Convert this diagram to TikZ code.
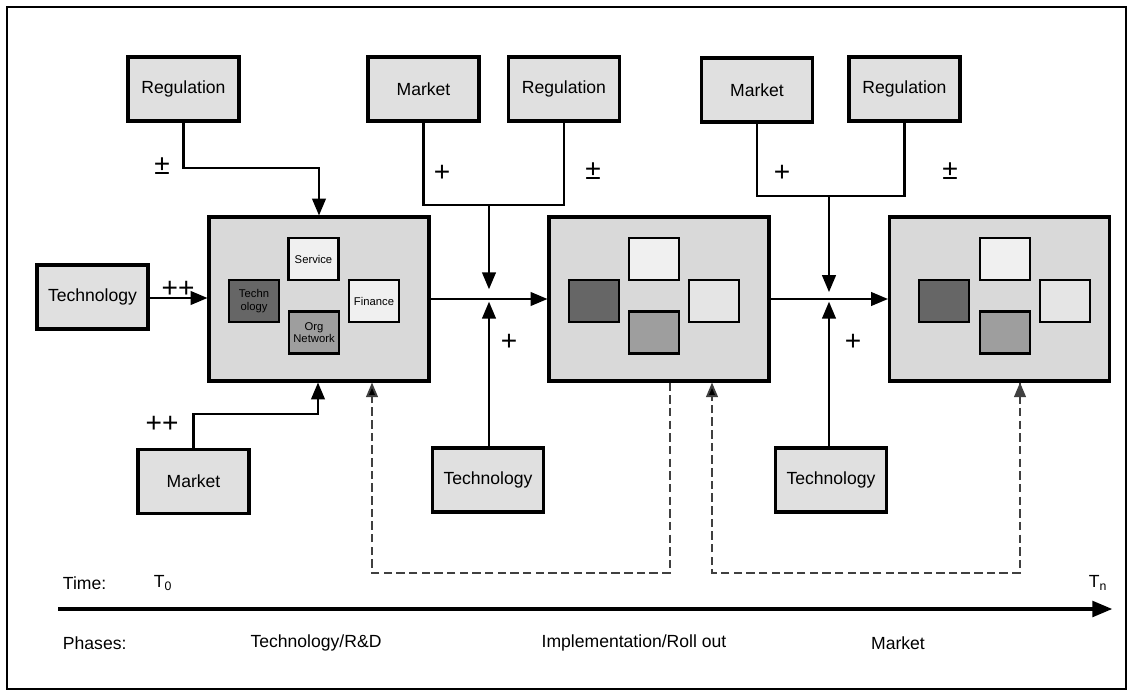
\documentclass[tikz,border=0pt]{standalone}
\usepackage{fontspec}
\setmainfont{Liberation Sans}
\usepackage{tikz}
\usetikzlibrary{arrows,positioning}
\tikzset{font=\fontsize{12.5}{14}\selectfont}
\tikzstyle{inbox}=[draw,line width=2.3pt,fill=black!12,minimum width=2.775cm,minimum height=1.6cm,inner sep=0pt]
\tikzstyle{stage}=[draw,line width=2.3pt,fill=black!15,minimum width=5.5cm,minimum height=4.1cm]
\tikzstyle{part}=[draw,line width=1.8pt,minimum width=1.25cm,minimum height=1.05cm,inner sep=0pt,align=center,font=\fontsize{8}{9}\selectfont]
\tikzstyle{sign}=[font=\fontsize{20}{21}\selectfont,inner sep=0pt]
\begin{document}
\begin{tikzpicture}[x=0.025cm,y=-0.025cm]
\useasboundingbox (0,0) rectangle (1133,696);
\draw[line width=1.6pt] (7,7) rectangle (1126,689);
% first stage
\node[inbox] (R1) at (183.5,89) {Regulation};
\node[inbox] (T1) at (92.5,297) {Technology};
\node[inbox] (M1) at (193.5,481.5) {Market};
\node[stage] (S1) at (319,299) {};
\node[part,fill=black!6] (S1a) at (313.5,259) {Service};
\node[part,fill=black!60] (S1b) at (254,301) {Techn\\ology};
\node[part,fill=black!6] (S1c) at (374,301) {Finance};
\node[part,fill=black!38] (S1d) at (314,332.5) {Org\\Network};
% second stage
\node[inbox] (M2) at (423.5,89) {Market};
\node[inbox] (R2) at (564,89) {Regulation};
\node[inbox] (T2) at (488,480) {Technology};
\node[stage] (S2) at (659,299) {};
\node[part,fill=black!6] (S2a) at (654,259) {};
\node[part,fill=black!60] (S2b) at (594,301) {};
\node[part,fill=black!10] (S2c) at (714,301) {};
\node[part,fill=black!38] (S2d) at (654,332.5) {};
% third stage
\node[inbox] (M3) at (757,90) {Market};
\node[inbox] (R3) at (904.5,89) {Regulation};
\node[inbox] (T3) at (831,480) {Technology};
\node[stage] (S3) at (999.5,299) {};
\node[part,fill=black!6] (S3a) at (1005,259) {};
\node[part,fill=black!60] (S3b) at (944,301) {};
\node[part,fill=black!10] (S3c) at (1065,301) {};
\node[part,fill=black!38] (S3d) at (1005,332.5) {};
% joints
\coordinate (J1) at (319,168);
\coordinate (J2) at (318,414);
\coordinate (K2) at (489,205);
\coordinate (X2) at (489,299);
\coordinate (K3) at (829,196);
\coordinate (X3) at (829,299);
\coordinate (F1) at (372,573);
\coordinate (F2) at (712,573);
\path[->,>=triangle 45,line width=1.8pt]
(R1.south) edge[to path={|- (J1) -- (\tikztotarget)}] (S1.north -| J1)
(M1.north) edge[to path={|- (J2) -- (\tikztotarget)}] (S1.south -| J2)
(T1.east |- 0,298) edge (S1.west |- 0,298)
(S1.east |- X2) edge (S2.west |- X2)
(S2.east |- X3) edge (S3.west |- X3)
(K2) edge[shorten >=7pt] (X2)
(T2.north -| X2) edge[shorten >=2pt] (X2)
(K3) edge[shorten >=5pt] (X3)
(T3.north -| X3) edge[shorten >=2pt] (X3);
\draw[line width=1.8pt] (M2.south) |- (K2) -| (R2.south);
\draw[line width=1.8pt] (M3.south) |- (K3) -| (R3.south);
% feedback
\path[->,>=triangle 45,line width=1.4pt,draw=black!75,dash pattern=on 6pt off 3pt]
(S2.south -| 670,0) edge[to path={|- (F1) -- (\tikztotarget)}] (S1.south -| F1)
(S3.south -| 1020,0) edge[to path={|- (F2) -- (\tikztotarget)}] (S2.south -| F2);
% signs
\node[sign] (p1) at (162,166) {±};
\node[sign] (p2) at (178,289) {++};
\node[sign] (p3) at (162,424) {++};
\node[sign] (p4) at (442,173) {+};
\node[sign] (p5) at (593,171) {±};
\node[sign] (p6) at (509,342) {+};
\node[sign] (p7) at (782,173) {+};
\node[sign] (p8) at (950,171) {±};
\node[sign] (p9) at (853,342) {+};
% time line
\coordinate (A0) at (58,609);
\coordinate (A1) at (1112,609);
\draw[->,>=triangle 45,line width=2.3pt] (A0) -- (A1);
\node[anchor=west] (time) at (58,583) {Time:};
\node (t0) at (163,583) {T\textsubscript{0}};
\node (tn) at (1098,583) {T\textsubscript{n}};
\node[anchor=west] (phases) at (58,643) {Phases:};
\node (ph1) at (316,643) {Technology/R\&D};
\node (ph2) at (634,643) {Implementation/Roll out};
\node (ph3) at (898,643) {Market};
\end{tikzpicture}
\end{document}
